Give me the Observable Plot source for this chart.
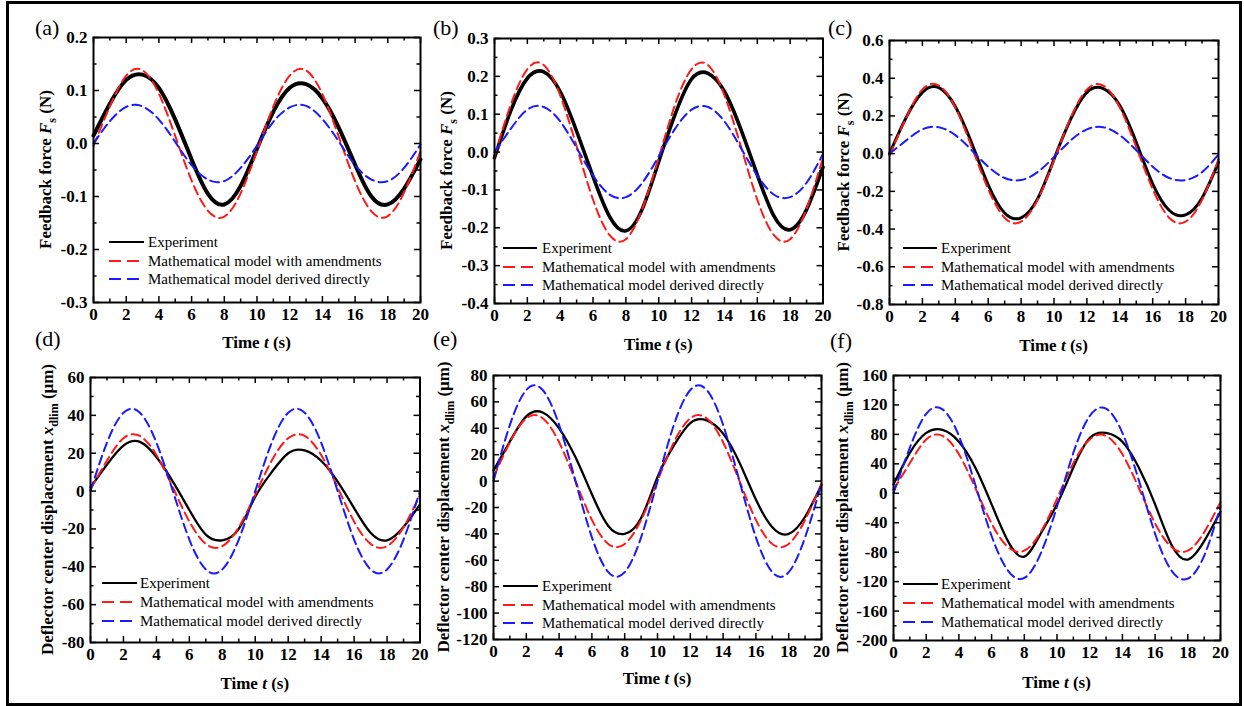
<!DOCTYPE html>
<html>
<head>
<meta charset="utf-8">
<script src="https://cdn.jsdelivr.net/npm/d3@7"></script>
<script src="https://cdn.jsdelivr.net/npm/@observablehq/plot@0.6"></script>
<style>
  body { margin: 0; background: #fff; }
  #fig { position: relative; width: 1244px; height: 706px; overflow: hidden; background: #fff;
         font-family: "Liberation Serif", "Times New Roman", serif; }
  #border { position: absolute; left: 6px; top: 1px; width: 1236px; height: 705px;
            border: 3px solid #000; box-sizing: border-box; }
  .panel { position: absolute; }
  #labels { position: absolute; left: 0; top: 0; pointer-events: none; }
</style>
</head>
<body>
<div id="fig"><div id="border"></div></div>
<script>
// ---------------- data ----------------
const time = [0, 1, 2, 3, 4, 5, 6, 7, 8, 9, 10, 11, 12, 13, 14, 15, 16, 17, 18, 19, 20];
const xTicks = [0, 2, 4, 6, 8, 10, 12, 14, 16, 18, 20];
const xMinorTicks = [1, 3, 5, 7, 9, 11, 13, 15, 17, 19];
const seriesNames = ["Experiment", "Mathematical model with amendments", "Mathematical model derived directly"];

// (a) feedback force F_s (N)
const aExperiment = [0.015, 0.075, 0.120, 0.130, 0.105, 0.045, -0.030, -0.095, -0.115, -0.080, -0.010, 0.060, 0.105, 0.112, 0.085, 0.030, -0.040, -0.100, -0.115, -0.085, -0.030];
const aAmend      = [-0.004, 0.070, 0.128, 0.138, 0.094, 0.014, -0.070, -0.127, -0.138, -0.094, -0.014, 0.070, 0.128, 0.138, 0.093, 0.013, -0.071, -0.128, -0.137, -0.092, -0.015];
const aDirect     = [0.000, 0.042, 0.069, 0.070, 0.045, 0.003, -0.041, -0.068, -0.071, -0.046, -0.004, 0.041, 0.068, 0.071, 0.046, 0.004, -0.041, -0.068, -0.071, -0.046, -0.002];
const aYTicks = [-0.3, -0.2, -0.1, 0.0, 0.1, 0.2];
const aYMinor = [-0.25, -0.15, -0.05, 0.05, 0.15];

// (b) feedback force F_s (N)
const bExperiment = [-0.015, 0.110, 0.195, 0.212, 0.160, 0.055, -0.065, -0.170, -0.208, -0.150, -0.025, 0.100, 0.193, 0.208, 0.160, 0.060, -0.060, -0.168, -0.205, -0.152, -0.040];
const bAmend      = [-0.010, 0.126, 0.219, 0.230, 0.150, 0.015, -0.126, -0.219, -0.230, -0.150, -0.015, 0.126, 0.219, 0.230, 0.150, 0.015, -0.126, -0.219, -0.230, -0.150, -0.015];
const bDirect     = [0.000, 0.062, 0.112, 0.119, 0.081, 0.011, -0.062, -0.112, -0.119, -0.081, -0.011, 0.062, 0.112, 0.119, 0.081, 0.011, -0.062, -0.112, -0.119, -0.081, -0.005];
const bYTicks = [-0.4, -0.3, -0.2, -0.1, 0.0, 0.1, 0.2, 0.3];
const bYMinor = [-0.35, -0.25, -0.15, -0.05, 0.05, 0.15, 0.25];

// (c) feedback force F_s (N)
const cExperiment = [0.000, 0.190, 0.325, 0.350, 0.250, 0.055, -0.165, -0.315, -0.340, -0.240, -0.030, 0.180, 0.325, 0.345, 0.255, 0.060, -0.160, -0.300, -0.325, -0.235, -0.045];
const cAmend      = [-0.010, 0.188, 0.340, 0.361, 0.245, 0.035, -0.188, -0.340, -0.361, -0.245, -0.035, 0.188, 0.340, 0.361, 0.245, 0.035, -0.188, -0.340, -0.361, -0.245, -0.030];
const cDirect     = [0.000, 0.069, 0.129, 0.140, 0.098, 0.018, -0.069, -0.129, -0.140, -0.098, -0.018, 0.069, 0.129, 0.140, 0.098, 0.018, -0.069, -0.129, -0.140, -0.098, -0.005];
const cYTicks = [-0.8, -0.6, -0.4, -0.2, 0.0, 0.2, 0.4, 0.6];
const cYMinor = [-0.7, -0.5, -0.3, -0.1, 0.1, 0.3, 0.5];

// (d) deflector center displacement (µm)
const dExperiment = [2, 14, 24, 26, 18, 5, -10, -23, -26, -20, -3, 10, 20, 21.5, 16, 5, -9, -22, -26, -19, -7];
const dAmend      = [1, 16.1, 27.9, 29.1, 19.1, 1.9, -16.1, -27.9, -29.1, -19.1, -1.9, 16.1, 27.9, 29.1, 19.1, 1.9, -16.1, -27.9, -29.1, -19.1, -1.9];
const dDirect     = [0, 25.6, 41.4, 41.4, 25.6, 0, -25.6, -41.4, -41.4, -25.6, 0, 25.6, 41.4, 41.4, 25.6, 0, -25.6, -41.4, -41.4, -25.6, 0];
const dYTicks = [-80, -60, -40, -20, 0, 20, 40, 60];
const dYMinor = [-70, -50, -30, -10, 10, 30, 50];

// (e) deflector center displacement (µm)
const eExperiment = [8, 30, 49, 52, 40, 18, -10, -34, -40, -28, 3, 27, 44, 46, 36, 14, -14, -35, -40, -27, -3];
const eAmend      = [3, 29.4, 47.6, 47.6, 29.4, 0, -29.4, -47.6, -47.6, -29.4, 0, 29.4, 47.6, 47.6, 29.4, 0, -29.4, -47.6, -47.6, -29.4, -2];
const eDirect     = [0, 42.6, 69.0, 69.0, 42.6, 0, -42.6, -69.0, -69.0, -42.6, 0, 42.6, 69.0, 69.0, 42.6, 0, -42.6, -69.0, -69.0, -42.6, -2];
const eYTicks = [-120, -100, -80, -60, -40, -20, 0, 20, 40, 60, 80];
const eYMinor = [-110, -90, -70, -50, -30, -10, 10, 30, 50, 70];

// (f) deflector center displacement (µm)
const fExperiment = [12, 55, 82, 86, 70, 35, -15, -65, -86, -55, -15, 35, 75, 82, 70, 35, -15, -70, -90, -65, -25];
const fAmend      = [5, 41, 73, 78, 53, 7.5, -41, -73, -78, -53, -7.5, 41, 73, 78, 53, 7.5, -41, -73, -78, -53, -12];
const fDirect     = [0, 62, 108, 114, 78, 12, -58, -105, -115, -82, -18, 55, 105, 115, 82, 18, -55, -105, -116, -85, -18];
const fYTicks = [-200, -160, -120, -80, -40, 0, 40, 80, 120, 160];
const fYMinor = [-180, -140, -100, -60, -20, 20, 60, 100, 140];

// ---------------- layout / style ----------------
const COLORS = ["#000000", "#ff1a1a", "#1a1aff"];
const FONT = "'Liberation Serif', 'Times New Roman', serif";
const forceLabel = [["Feedback force ", ""], ["F", "italic"], ["s", "sub"], [" (N)", ""]];
const dispLabel = [["Deflector center displacement ", ""], ["x", "italic"], ["dlim", "sub"], [" (\u03bcm)", ""]];

const panels = [
  {tag: "(a)", series: [aExperiment, aAmend, aDirect], yTicks: aYTicks, yMinor: aYMinor, digits: 1, yLabel: forceLabel,
   left: 92.5, top: 37, w: 327, h: 265, expW: 4, yLabX: -42, xLabY: 46, leg: [-60, -41, -23], legL: [16, 51, 55], tagXY: [35, 35]},
  {tag: "(b)", series: [bExperiment, bAmend, bDirect], yTicks: bYTicks, yMinor: bYMinor, digits: 1, yLabel: forceLabel,
   left: 494, top: 38, w: 328.5, h: 265, expW: 3.6, yLabX: -42, xLabY: 47, leg: [-55, -36, -18], legL: [9, 43, 48], tagXY: [433, 35]},
  {tag: "(c)", series: [cExperiment, cAmend, cDirect], yTicks: cYTicks, yMinor: cYMinor, digits: 1, yLabel: forceLabel,
   left: 889, top: 40, w: 329, h: 264, expW: 3, yLabX: -40, xLabY: 47, leg: [-56, -37, -19], legL: [14, 48, 52], tagXY: [828, 35]},
  {tag: "(d)", series: [dExperiment, dAmend, dDirect], yTicks: dYTicks, yMinor: dYMinor, digits: 0, yLabel: dispLabel,
   left: 90, top: 377, w: 329.5, h: 265, expW: 2.3, yLabX: -37, xLabY: 47, leg: [-59, -40, -21], legL: [12, 47, 50], tagXY: [35, 346]},
  {tag: "(e)", series: [eExperiment, eAmend, eDirect], yTicks: eYTicks, yMinor: eYMinor, digits: 0, yLabel: dispLabel,
   left: 493, top: 375, w: 328, h: 264, expW: 2.3, yLabX: -44, xLabY: 45, leg: [-53, -34, -16], legL: [10, 45, 49], tagXY: [433, 346]},
  {tag: "(f)", series: [fExperiment, fAmend, fDirect], yTicks: fYTicks, yMinor: fYMinor, digits: 0, yLabel: dispLabel,
   left: 893, top: 375, w: 327, h: 265, expW: 2.3, yLabX: -45, xLabY: 48, leg: [-56, -37, -18], legL: [10, 45, 48], tagXY: [830, 348]}
];

const fig = document.getElementById("fig");
const mL = 66, mR = 14, mT = 10, mB = 62;
const DASH = "9,5";

function addRich(textSel, parts) {
  let shifted = false;
  for (const [str, kind] of parts) {
    const ts = textSel.append("tspan").text(str);
    if (kind === "italic") ts.attr("font-style", "italic");
    if (kind === "sub") { ts.attr("font-size", 12).attr("dy", 5); shifted = true; }
    else if (shifted) { ts.attr("dy", -5); shifted = false; }
  }
}

for (const p of panels) {
  const lines = p.series.map((vals) => vals.map((v, i) => ({t: time[i], v})));
  const tick = 6, minor = 3.5;
  const svg = Plot.plot({
    width: p.w + mL + mR,
    height: p.h + mT + mB,
    marginLeft: mL, marginRight: mR, marginTop: mT, marginBottom: mB,
    style: {background: "transparent", fontFamily: FONT, fontSize: "17px", fontWeight: "bold", color: "#000", overflow: "visible"},
    x: {domain: [0, 20]},
    y: {domain: [p.yTicks[0], p.yTicks[p.yTicks.length - 1]]},
    marks: [
      Plot.line(lines[0], {x: "t", y: "v", stroke: COLORS[0], strokeWidth: p.expW, curve: "natural"}),
      Plot.line(lines[1], {x: "t", y: "v", stroke: COLORS[1], strokeWidth: 2, strokeDasharray: DASH, curve: "natural"}),
      Plot.line(lines[2], {x: "t", y: "v", stroke: COLORS[2], strokeWidth: 2, strokeDasharray: DASH, curve: "natural"}),
      Plot.tickX(xTicks, {x: (d) => d, insetTop: p.h - tick, strokeWidth: 1.5}),
      Plot.tickX(xTicks, {x: (d) => d, insetBottom: p.h - tick, strokeWidth: 1.5}),
      Plot.tickX(xMinorTicks, {x: (d) => d, insetTop: p.h - minor, strokeWidth: 1.5}),
      Plot.tickX(xMinorTicks, {x: (d) => d, insetBottom: p.h - minor, strokeWidth: 1.5}),
      Plot.tickY(p.yTicks, {y: (d) => d, insetRight: p.w - tick, strokeWidth: 1.5}),
      Plot.tickY(p.yTicks, {y: (d) => d, insetLeft: p.w - tick, strokeWidth: 1.5}),
      Plot.tickY(p.yMinor, {y: (d) => d, insetRight: p.w - minor, strokeWidth: 1.5}),
      Plot.tickY(p.yMinor, {y: (d) => d, insetLeft: p.w - minor, strokeWidth: 1.5}),
      Plot.frame({stroke: "#000", strokeWidth: 2}),
      Plot.axisX(xTicks, {tickSize: 0, tickPadding: 5, tickFormat: (d) => String(d), label: null}),
      Plot.axisY(p.yTicks, {tickSize: 0, tickPadding: 6, tickFormat: (d) => d.toFixed(p.digits), label: null})
    ]
  });
  const s = d3.select(svg);
  // y axis title
  const yt = s.append("text")
    .attr("transform", `translate(${mL + p.yLabX},${mT + p.h / 2}) rotate(-90)`)
    .attr("text-anchor", "middle").attr("font-weight", "bold").attr("font-size", 17).attr("fill", "#000");
  addRich(yt, p.yLabel);
  // x axis title
  const xt = s.append("text")
    .attr("x", mL + p.w / 2).attr("y", mT + p.h + p.xLabY)
    .attr("text-anchor", "middle").attr("font-weight", "bold").attr("font-size", 17).attr("fill", "#000");
  addRich(xt, [["Time ", ""], ["t", "italic"], [" (s)", ""]]);
  // legend
  const lg = s.append("g").attr("text-anchor", "start");
  seriesNames.forEach((name, i) => {
    const y = mT + p.h + p.leg[i];
    lg.append("line")
      .attr("x1", mL + p.legL[0]).attr("x2", mL + p.legL[1]).attr("y1", y).attr("y2", y)
      .attr("stroke", COLORS[i]).attr("stroke-width", 2)
      .attr("stroke-dasharray", i === 0 ? null : "12,6");
    lg.append("text")
      .attr("x", mL + p.legL[2]).attr("y", y + 5)
      .attr("text-anchor", "start")
      .attr("font-weight", "normal").attr("font-size", 15).attr("fill", "#000")
      .text(name);
  });
  svg.classList.add("panel");
  svg.style.position = "absolute";
  svg.style.left = (p.left - mL) + "px";
  svg.style.top = (p.top - mT) + "px";
  svg.style.maxWidth = "none";
  fig.appendChild(svg);
}

// panel tags
const tags = d3.select(fig).append("svg").attr("id", "labels").attr("width", 1244).attr("height", 706);
for (const p of panels) {
  tags.append("text").attr("x", p.tagXY[0]).attr("y", p.tagXY[1])
    .attr("font-family", FONT).attr("font-size", 22).attr("fill", "#000").text(p.tag);
}
</script>
</body>
</html>
